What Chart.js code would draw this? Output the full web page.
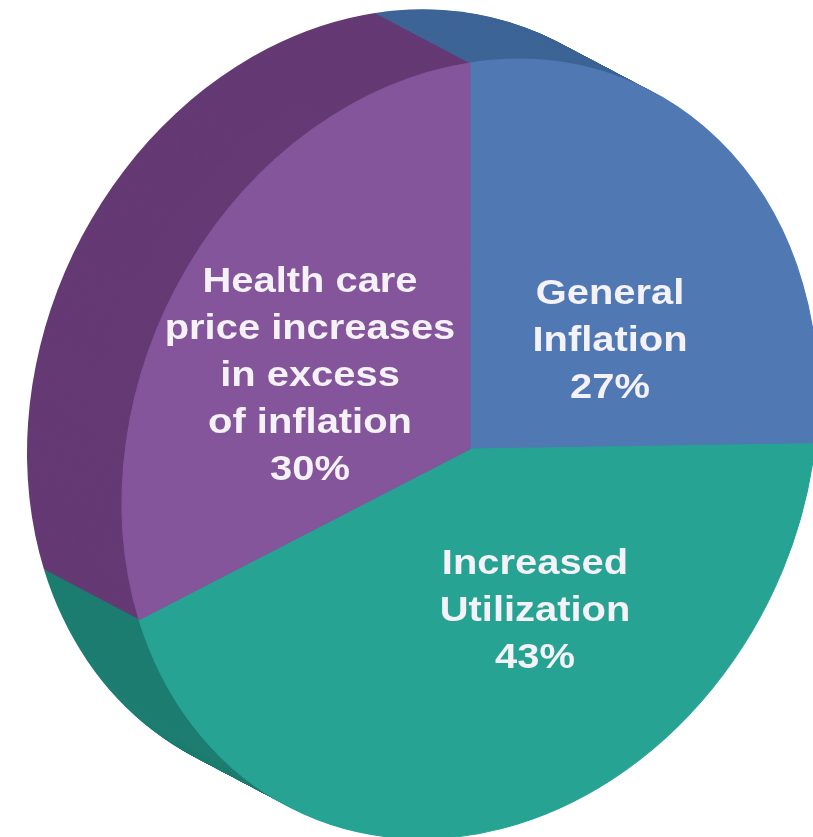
<!DOCTYPE html>
<html>
<head>
<meta charset="utf-8">
<script src="https://cdn.jsdelivr.net/npm/chart.js@4"></script>
<style>
  html, body { margin: 0; background: #fff; }
  #wrap { width: 813px; height: 837px; }
</style>
</head>
<body>
<div id="wrap"><canvas id="pie" width="813" height="837"></canvas></div>
<script>
// data
const categories = ["General Inflation", "Increased Utilization", "Health care price increases in excess of inflation"];
const shares = [27, 43, 30];
const labelLines = [
  ["General", "Inflation"],
  ["Increased", "Utilization"],
  ["Health care", "price increases", "in excess", "of inflation"]
];

// colours (face / darker side)
const faceColors = ["#5079b4", "#27a394", "#84559a"];
const sideColors = ["#3e6596", "#1c7d70", "#653a74"];

// tilted disc look: face = circle pushed through a small shear
const CENTER = { x: 470, y: 449 };
const FACE = { rx: 348, ry: 386, shear: -54 };
const DEPTH = { x: -95, y: -50 };
// label middle, as offset from the disc center
const labelSpots = [{ x: 140, y: -108 }, { x: 65, y: 162 }, { x: -160, y: -73 }];
const LINE_H = 47;
const TEXT_STRETCH = 1.14;

function tilt(ctx, arc) {
  const r = arc.outerRadius;
  ctx.translate(CENTER.x, CENTER.y);
  ctx.transform(FACE.rx / r, FACE.shear / r, 0, FACE.ry / r, 0, 0);
  ctx.translate(-arc.x, -arc.y);
}

// draws the thickness of the disc, then squashes the face
const disc3d = {
  id: "disc3d",
  beforeDatasetsDraw(chart) {
    const ctx = chart.ctx;
    const arcs = chart.getDatasetMeta(0).data;
    const steps = 100;
    for (let s = steps; s >= 1; s--) {
      const t = s / steps;
      ctx.save();
      ctx.translate(DEPTH.x * t, DEPTH.y * t);
      tilt(ctx, arcs[0]);
      arcs.forEach((a, i) => {
        ctx.beginPath();
        ctx.moveTo(a.x, a.y);
        ctx.arc(a.x, a.y, a.outerRadius, a.startAngle, a.endAngle);
        ctx.closePath();
        ctx.fillStyle = sideColors[i];
        ctx.fill();
      });
      ctx.restore();
    }
    ctx.save();
    tilt(ctx, arcs[0]);
  },
  afterDatasetsDraw(chart) {
    chart.ctx.restore();
  },
  afterDraw(chart) {
    const ctx = chart.ctx;
    ctx.save();
    ctx.font = "bold 35px 'Liberation Sans', Arial, sans-serif";
    ctx.fillStyle = "#f4f1f7";
    ctx.textAlign = "center";
    ctx.textBaseline = "middle";
    labelLines.forEach((lines, i) => {
      const all = lines.concat([shares[i] + "%"]);
      const top = CENTER.y + labelSpots[i].y - (all.length - 1) * LINE_H / 2;
      all.forEach((txt, j) => {
        ctx.save();
        ctx.translate(CENTER.x + labelSpots[i].x, top + j * LINE_H);
        ctx.scale(TEXT_STRETCH, 1);
        ctx.fillText(txt, 0, 0);
        ctx.restore();
      });
    });
    ctx.restore();
  }
};

new Chart(document.getElementById("pie"), {
  type: "pie",
  data: {
    labels: categories,
    datasets: [{
      data: shares,
      backgroundColor: faceColors,
      borderColor: faceColors,
      borderWidth: 1,
      hoverOffset: 0,
      offset: 0,
      clip: false
    }]
  },
  options: {
    responsive: false,
    animation: false,
    rotation: 0,
    layout: { padding: { left: 127, right: 0, top: 107, bottom: 44 } },
    events: [],
    plugins: { legend: { display: false }, tooltip: { enabled: false } }
  },
  plugins: [disc3d]
});
</script>
</body>
</html>
